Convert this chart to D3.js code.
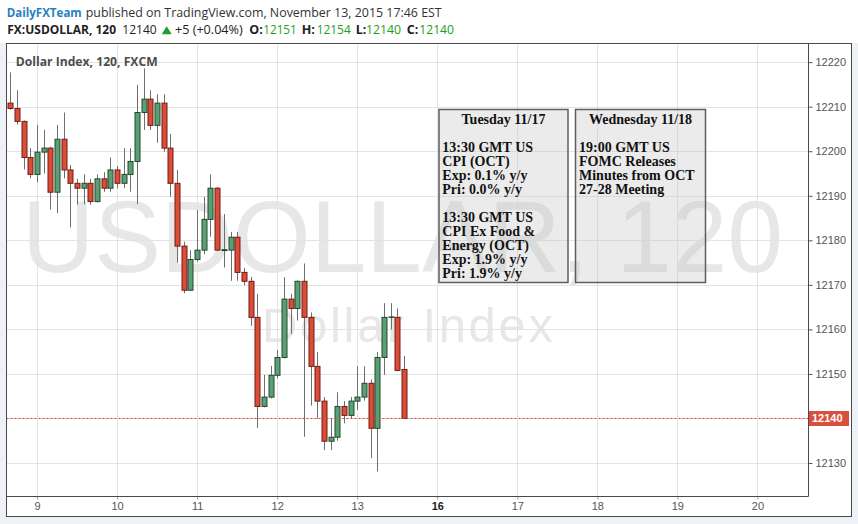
<!DOCTYPE html>
<html><head><meta charset="utf-8">
<script src="https://cdn.jsdelivr.net/npm/d3@7"></script>
<style>
html,body{margin:0;padding:0;background:#eef1f5;}
svg{display:block;}
</style></head>
<body>
<svg id="chart" width="858" height="524"></svg>
<script>
// ---- data (2-hour bars, Nov 8 evening -> Nov 13) ----
const opens = [12210.8,12209.6,12206.7,12198.6,12194.8,12199.8,12200.7,12190.8,12202.7,12195.8,
 12192.8,12191.7,12192.8,12188.7,12193.8,12191.7,12195.8,12192.8,12194.8,12197.7,
 12208.7,12211.7,12205.8,12210.8,12200.7,12192.8,12178.7,12168.8,12175.7,12177.8,
 12184.7,12191.7,12177.7,12177.8,12180.7,12172.8,12170.8,12162.7,12142.7,12144.8,
 12149.7,12153.7,12166.8,12164.7,12170.8,12162.7,12151.7,12143.9,12134.9,12135.8,
 12142.7,12140.7,12143.9,12144.8,12147.9,12137.8,12153.7,12162.7,12162.7,12151.0];
const highs = [12217.7,12213.7,12206.9,12200.7,12205.9,12204.8,12201.0,12205.9,12208.7,12196.9,
 12193.8,12194.8,12193.8,12194.8,12195.3,12198.6,12196.7,12200.7,12200.7,12214.9,
 12218.6,12213.7,12212.8,12212.8,12203.9,12195.8,12179.7,12177.8,12186.8,12189.8,
 12194.8,12192.0,12185.9,12181.9,12181.9,12173.8,12171.8,12168.0,12149.8,12151.8,
 12155.4,12171.7,12168.0,12171.0,12174.8,12163.8,12154.9,12144.8,12140.0,12145.9,
 12143.9,12144.8,12151.7,12151.7,12148.8,12154.9,12165.9,12165.9,12164.7,12154.0];
const lows = [12209.3,12206.0,12195.9,12193.9,12193.0,12195.0,12186.9,12186.1,12193.9,12182.9,
 12188.0,12188.1,12188.0,12188.5,12190.9,12190.9,12191.7,12191.7,12190.9,12188.1,
 12204.8,12204.8,12201.9,12199.9,12189.8,12175.0,12168.1,12168.6,12175.2,12176.9,
 12180.8,12177.6,12173.9,12170.9,12170.9,12169.9,12160.8,12137.9,12142.5,12144.5,
 12149.0,12153.5,12159.0,12162.0,12135.9,12142.9,12140.0,12132.9,12132.9,12135.0,
 12138.9,12140.0,12141.9,12144.0,12131.1,12128.1,12149.8,12160.0,12150.6,12140.0];
const closes = [12209.6,12206.7,12198.6,12194.8,12199.8,12200.7,12190.8,12202.7,12195.8,12192.8,
 12191.7,12192.8,12188.7,12193.8,12191.7,12195.8,12192.8,12194.8,12197.7,12208.7,
 12211.7,12205.8,12210.8,12200.7,12192.8,12178.7,12168.8,12175.7,12177.8,12184.7,
 12191.7,12177.8,12177.9,12180.7,12172.8,12170.8,12162.7,12142.7,12144.8,12149.7,
 12153.7,12166.8,12164.7,12170.8,12162.7,12151.7,12143.9,12134.9,12135.8,12142.7,
 12140.7,12143.9,12144.8,12147.9,12137.8,12153.7,12162.7,12162.8,12150.8,12140.0];
const priceTicks = [12130,12140,12150,12160,12170,12180,12190,12200,12210,12220];
const dayLabels = ["9","10","11","12","13","16","17","18","19","20"];
const dayBarIndex = [4,16,28,40,52,64,76,88,100,112];
const lastPrice = 12140;
const box1Title = "Tuesday 11/17";
const box1Lines = ["", "13:30 GMT US","CPI (OCT)","Exp: 0.1% y/y","Pri: 0.0% y/y","",
  "13:30 GMT US","CPI Ex Food &","Energy (OCT)","Exp: 1.9% y/y","Pri: 1.9% y/y"];
const box2Title = "Wednesday 11/18";
const box2Lines = ["", "19:00 GMT US","FOMC Releases","Minutes from OCT","27-28 Meeting"];

const candles = opens.map((o,i)=>({i, o, h:highs[i], l:lows[i], c:closes[i]}));

// ---- layout ----
const svg = d3.select("#chart");
const L = 6.5, T = 43.5, R = 808, B = 496, FR = 851.5, FB = 516.5;
const x = d3.scaleLinear().domain([-0.6, 119.6]).range([6.4, 808.1]);
const y = d3.scaleLinear().domain([12122.6, 12224.3]).range([496, 43]);

// header background
svg.append("rect").attr("x",0).attr("y",0).attr("width",858).attr("height",43).attr("fill","#ffffff");
// chart frame background
svg.append("rect").attr("x",L).attr("y",T).attr("width",FR-L).attr("height",FB-T).attr("fill","#ffffff");

// header text
const hf = "'Open Sans', 'Liberation Sans', Arial, sans-serif";
function htext(str, xx, yy, opts){
  const t = svg.append("text").attr("x",xx).attr("y",yy).text(str)
    .attr("font-family",hf).attr("font-size",opts.size||13)
    .attr("font-weight",opts.bold?"bold":"normal").attr("fill",opts.fill||"#222");
  if(opts.len) t.attr("textLength",opts.len).attr("lengthAdjust","spacingAndGlyphs");
  return t;
}
htext("DailyFXTeam", 6.7, 16.5, {bold:true, fill:"#2a7fc1", len:75, size:13});
htext("published on TradingView.com, November 13, 2015 17:46 EST", 85.7, 16.5, {fill:"#333", len:356, size:13});
htext("FX:USDOLLAR, 120", 7.3, 34, {bold:true, len:108.7, size:12.5});
htext("12140", 122.3, 34, {len:34.4, size:12.5});
svg.append("path").attr("d","M161.7,34.3 L171.7,34.3 L166.7,26.2 Z").attr("fill","#1f9e2a");
htext("+5 (+0.04%)", 175, 34, {len:67.7, size:12.5});
const grn = "#1c9e1c";
htext("O:", 249.3, 34, {bold:true, size:12.5});
htext("12151", 263.3, 34, {fill:grn, len:33.4, size:12.5});
htext("H:", 301.7, 34, {bold:true, size:12.5});
htext("12154", 316.7, 34, {fill:grn, len:34, size:12.5});
htext("L:", 355.7, 34, {bold:true, size:12.5});
htext("12140", 366, 34, {fill:grn, len:35, size:12.5});
htext("C:", 406.7, 34, {bold:true, size:12.5});
htext("12140", 419.3, 34, {fill:grn, len:34.7, size:12.5});

// watermark
svg.append("text").attr("x",22).attr("y",272).text("USDOLLAR, 120")
  .attr("font-family","'Liberation Sans', Arial, sans-serif").attr("font-size",102)
  .attr("fill","#e7e7e7").attr("textLength",761).attr("lengthAdjust","spacingAndGlyphs");
svg.append("text").attr("x",262).attr("y",342).text("Dollar Index")
  .attr("font-family","'Liberation Sans', Arial, sans-serif").attr("font-size",49)
  .attr("fill","#e7e7e7").attr("textLength",291).attr("lengthAdjust","spacing");

// gridlines
const grid = svg.append("g").attr("stroke","#e3e3e3").attr("stroke-width",1);
priceTicks.forEach(v=>{
  const yy = Math.round(y(v))+0.5;
  grid.append("line").attr("x1",L).attr("x2",R).attr("y1",yy).attr("y2",yy);
});
dayBarIndex.forEach(b=>{
  const xx = Math.round(x(b))+0.5;
  grid.append("line").attr("x1",xx).attr("x2",xx).attr("y1",T).attr("y2",B);
});

// chart title
svg.append("text").attr("x",15.7).attr("y",65.5).text("Dollar Index, 120, FXCM")
  .attr("font-family",hf).attr("font-size",12.5).attr("font-weight","bold").attr("fill","#4d4d4d")
  .attr("textLength",142).attr("lengthAdjust","spacingAndGlyphs");

// candles
svg.append("clipPath").attr("id","plotclip").append("rect")
  .attr("x",L).attr("y",T).attr("width",R-L).attr("height",B-T);
const cg = svg.append("g").attr("clip-path","url(#plotclip)");
const bw = 4;
const cs = cg.selectAll("g.c").data(candles).join("g").attr("class","c");
cs.append("line")
  .attr("x1",d=>Math.round(x(d.i))+0.5).attr("x2",d=>Math.round(x(d.i))+0.5)
  .attr("y1",d=>y(d.h)).attr("y2",d=>y(d.l))
  .attr("stroke","#6e6e6e").attr("stroke-width",1);
cs.append("rect")
  .attr("x",d=>Math.round(x(d.i))+0.5-bw/2-0.5)
  .attr("y",d=>y(Math.max(d.o,d.c)))
  .attr("width",bw+1)
  .attr("height",d=>Math.max(0.01, Math.abs(y(d.o)-y(d.c))))
  .attr("fill",d=>d.c>=d.o?"#5c9f76":"#db4d39")
  .attr("stroke",d=>d.c>=d.o?"#1e4a2c":"#6e1d12")
  .attr("stroke-width",1);

// last price line
cg.append("line").attr("x1",L).attr("x2",R).attr("y1",Math.round(y(lastPrice))+0.5).attr("y2",Math.round(y(lastPrice))+0.5)
  .attr("stroke","#e0463a").attr("stroke-width",1).attr("stroke-dasharray","2,2");

// annotation boxes (semi-transparent, watermark shows through)
const sf = "'Liberation Serif', 'Times New Roman', serif";
function box(bx, by, bwid, bh, title, lines, tx){
  svg.append("rect").attr("x",bx).attr("y",by).attr("width",bwid).attr("height",bh)
    .attr("fill","#c8c8c8").attr("fill-opacity",0.36).attr("stroke","#5e5e5e").attr("stroke-width",1.5);
  const t = svg.append("text").attr("font-family",sf).attr("font-size",14)
    .attr("font-weight","bold").attr("fill","#111");
  t.append("tspan").attr("x",bx+bwid/2).attr("y",124).attr("text-anchor","middle").text(title);
  lines.forEach((s,k)=>{
    if(!s) return;
    t.append("tspan").attr("x",tx).attr("y",124+(k+1)*14).text(s);
  });
}
box(439, 109.5, 129, 173, box1Title, box1Lines, 442.3);
box(575.5, 109.5, 130, 173, box2Title, box2Lines, 579);

// axes
const yAxis = d3.axisRight(y).tickValues(priceTicks).tickSize(4).tickPadding(3).tickFormat(d3.format("d"));
const ya = svg.append("g").attr("transform",`translate(${R+0.5},0)`).call(yAxis);
ya.select(".domain").remove();
ya.selectAll("line").attr("stroke","#555");
ya.selectAll("text").attr("font-family","'Liberation Sans', Arial, sans-serif").attr("font-size",11).attr("fill","#555");

const xAxis = d3.axisBottom(x).tickValues(dayBarIndex).tickSize(3).tickPadding(3)
  .tickFormat((d,k)=>dayLabels[k]);
const xa = svg.append("g").attr("transform",`translate(0,${B+0.5})`).call(xAxis);
xa.select(".domain").remove();
xa.selectAll("line").attr("stroke","#999");
xa.selectAll("text").attr("font-family","'Liberation Sans', Arial, sans-serif").attr("font-size",11)
  .attr("fill",(d,k)=>dayLabels[k]==="16"?"#222":"#555")
  .attr("font-weight",(d,k)=>dayLabels[k]==="16"?"bold":"normal");

// axis lines and frame
svg.append("line").attr("x1",R+0.5).attr("x2",R+0.5).attr("y1",T).attr("y2",B+0.5).attr("stroke","#4a4a4a");
svg.append("line").attr("x1",L).attr("x2",R+0.5).attr("y1",B+0.5).attr("y2",B+0.5).attr("stroke","#4a4a4a");
svg.append("rect").attr("x",L).attr("y",T).attr("width",FR-L).attr("height",FB-T)
  .attr("fill","none").attr("stroke","#4a4a4a").attr("stroke-width",1);

// last price label
const lpY = y(lastPrice);
svg.append("rect").attr("x",809).attr("y",lpY-7.5).attr("width",40).attr("height",15).attr("fill","#d9503c");
svg.append("text").attr("x",812).attr("y",lpY+4).text(d3.format("d")(lastPrice))
  .attr("font-family","'Liberation Sans', Arial, sans-serif").attr("font-size",11).attr("font-weight","bold").attr("fill","#fff");
</script>
</body></html>
